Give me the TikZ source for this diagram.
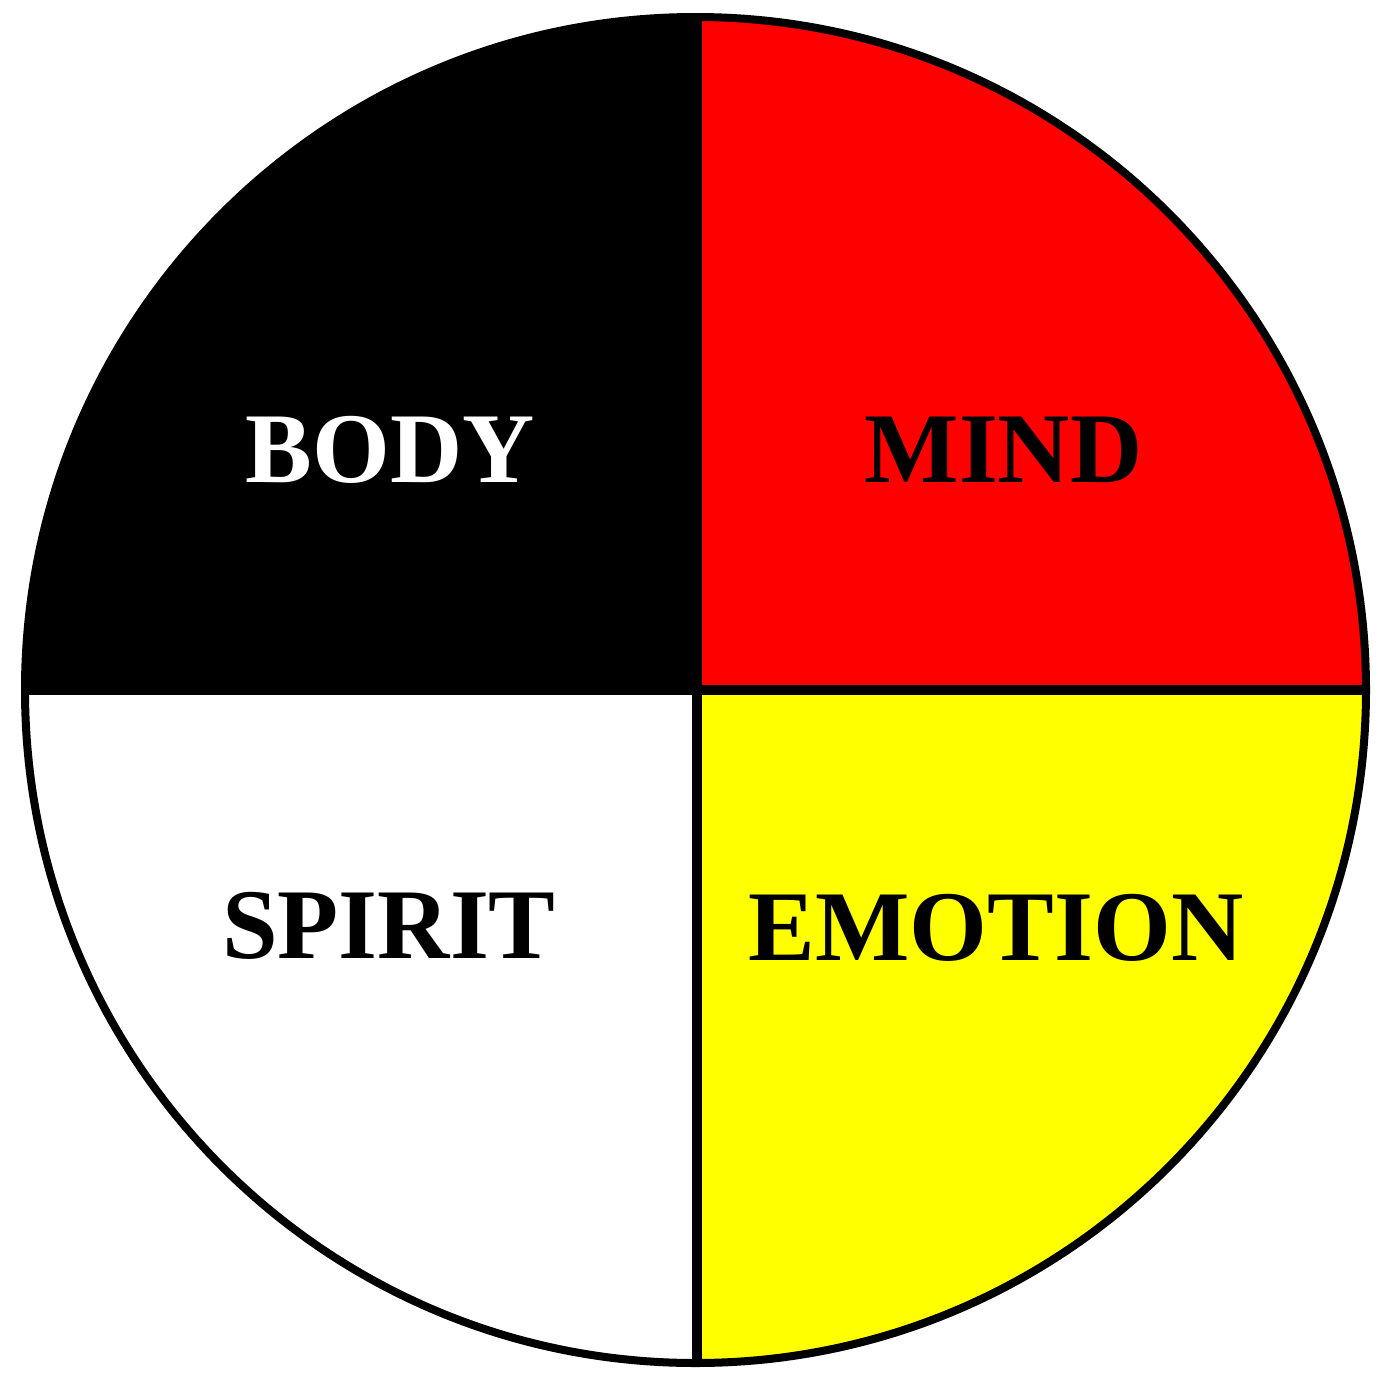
\documentclass[tikz,border=0pt]{standalone}
\usepackage{fontspec}
\setmainfont{Liberation Serif}
\definecolor{qred}{RGB}{255,0,0}
\definecolor{qyellow}{RGB}{255,255,0}
\begin{document}
\begin{tikzpicture}[x=1pt,y=-1pt,
  lbl/.style={font=\fontsize{100}{100}\selectfont\bfseries, inner sep=0pt, anchor=base},
  divider/.style={line width=10pt, black}]
\useasboundingbox (0,0) rectangle (1392,1392);
\fill[white] (0,0) rectangle (1392,1392);
\coordinate (c) at (695.5,690);
\begin{scope}
  \clip (c) ellipse [x radius=670.5, y radius=673];
  \fill[black] (0,0) rectangle (697,690);
  \fill[qred] (697,0) rectangle (1392,690);
  \fill[white] (0,690) rectangle (697,1392);
  \fill[qyellow] (697,690) rectangle (1392,1392);
  \draw[divider] (697,0) -- (697,1392);
  \draw[divider] (0,690) -- (1392,690);
\end{scope}
\draw[line width=8pt] (c) ellipse [x radius=670.5, y radius=673];
\node[lbl, text=white] (body) at (390,482) {BODY};
\node[lbl] (mind) at (1003.5,482) {MIND};
\node[lbl] (spirit) at (389,958) {SPIRIT};
\node[lbl] (emotion) at (996,960) {EMOTION};
\end{tikzpicture}
\end{document}
